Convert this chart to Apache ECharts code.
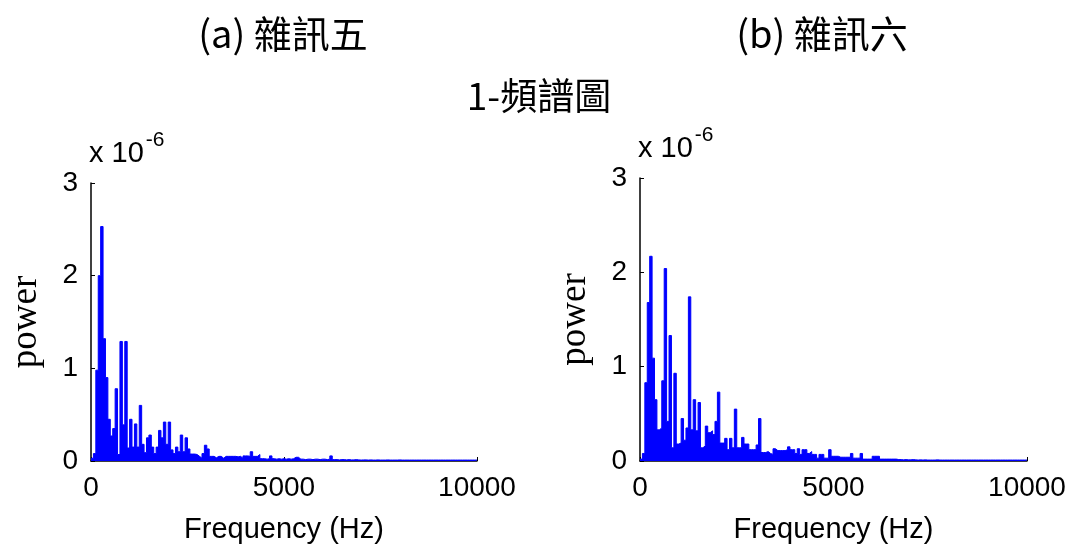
<!DOCTYPE html>
<html>
<head>
<meta charset="utf-8">
<script src="https://cdn.jsdelivr.net/npm/echarts@6/dist/echarts.min.js"></script>
<style>
html,body{margin:0;padding:0;background:#fff;}
#chart{width:1071px;height:549px;}
</style>
</head>
<body>
<div id="chart"></div>
<script>
// ---- data ----
var binHz = 62.5; // spectral bin spacing (Hz)
var titleLeft = '(a) 雜訊五';
var titleRight = '(b) 雜訊六';
var mainTitle = '1-頻譜圖';
var xTicks = [0, 5000, 10000];
var yTicks = [0, 1, 2, 3];
var yExponent = '-6';

// power (x 10^-6) per bin, noise 5
var powerNoise5 = [
  0.03,0.08,0.98,2.0,2.53,1.32,0.9,0.45,0.27,0.35,
  0.78,0.07,1.29,0.39,1.29,0.14,0.45,0.15,0.4,0.15,
  0.6,0.18,0.09,0.25,0.28,0.15,0.08,0.15,0.33,0.25,
  0.42,0.18,0.42,0.12,0.08,0.15,0.1,0.28,0.1,0.25,
  0.13,0.075,0.075,0.07,0.05,0.03,0.08,0.17,0.13,0.05,
  0.05,0.035,0.05,0.05,0.03,0.05,0.05,0.05,0.05,0.05,
  0.045,0.05,0.03,0.055,0.055,0.05,0.1,0.05,0.05,0.07,
  0.025,0.025,0.02,0.025,0.055,0.025,0.02,0.025,0.02,0.025,
  0.02,0.025,0.02,0.025,0.04,0.04,0.02,0.02,0.015,0.02,
  0.02,0.015,0.02,0.02,0.015,0.02,0.02,0.015,0.02,0.055,
  0.015,0.015,0.012,0.015,0.015,0.012,0.015,0.012,0.012,0.015,
  0.012,0.01,0.012,0.012,0.01,0.012,0.01,0.01,0.012,0.01,
  0.01,0.01,0.012,0.01,0.01,0.01,0.01,0.012,0.01,0.01,
  0.01,0.01,0.01,0.01,0.01,0.01,0.01,0.01,0.01,0.01,
  0.01,0.01,0.01,0.01,0.01,0.01,0.01,0.01,0.01,0.01,
  0.01,0.01,0.01,0.01,0.01,0.01,0.01,0.01,0.01,0.01,
  0.01
];

// power (x 10^-6) per bin, noise 6
var powerNoise6 = [
  0.02,0.08,0.83,1.68,2.17,1.09,0.65,0.33,0.35,0.85,
  2.04,0.42,1.33,0.14,0.93,0.18,0.19,0.45,0.22,0.35,
  1.74,0.33,0.65,0.32,0.62,0.14,0.16,0.37,0.3,0.32,
  0.28,0.42,0.73,0.19,0.19,0.24,0.12,0.24,0.14,0.55,
  0.14,0.14,0.25,0.18,0.18,0.12,0.12,0.12,0.17,0.45,
  0.09,0.09,0.1,0.08,0.07,0.13,0.11,0.11,0.11,0.11,
  0.12,0.15,0.12,0.12,0.08,0.13,0.07,0.12,0.12,0.08,
  0.1,0.07,0.07,0.03,0.07,0.07,0.03,0.03,0.12,0.05,
  0.05,0.05,0.04,0.04,0.04,0.04,0.04,0.08,0.03,0.03,
  0.03,0.08,0.02,0.02,0.02,0.02,0.05,0.05,0.05,0.02,
  0.02,0.02,0.02,0.02,0.02,0.02,0.015,0.015,0.012,0.015,
  0.012,0.012,0.015,0.012,0.01,0.012,0.01,0.012,0.01,0.01,
  0.01,0.01,0.012,0.01,0.01,0.01,0.01,0.01,0.01,0.01,
  0.01,0.01,0.01,0.01,0.01,0.01,0.01,0.01,0.01,0.01,
  0.01,0.01,0.01,0.01,0.01,0.01,0.01,0.01,0.01,0.01,
  0.01,0.01,0.01,0.01,0.01,0.01,0.01,0.01,0.01,0.01,
  0.01
];

// ---- build ----
function toPoints(vals){
  return vals.map(function(v,i){ return [i*binHz, v]; });
}
var sansFont = "'Liberation Sans', Arial, sans-serif";
var serifFont = "'Liberation Serif', 'Times New Roman', serif";
var cjkFont = "'Noto Sans CJK TC', 'Noto Sans CJK SC', sans-serif";

var grids = [
  {left: 91, top: 183, width: 386, height: 280},
  {left: 640, top: 178, width: 387, height: 284}
];

function xAxisCfg(idx){
  return {
    gridIndex: idx, type: 'value', min: xTicks[0], max: xTicks[xTicks.length-1],
    interval: xTicks[1]-xTicks[0],
    axisLine: {show: true, onZero: false, lineStyle: {color: '#000', width: 1.5}},
    axisTick: {show: true, inside: true, length: 4, lineStyle: {color: '#000'}},
    axisLabel: {show: true, color: '#000', fontSize: 28, fontFamily: sansFont, margin: 13,
                formatter: function(v){ return String(v); }},
    splitLine: {show: false},
    name: 'Frequency (Hz)', nameLocation: 'middle', nameGap: 54,
    nameTextStyle: {color: '#000', fontSize: 29, fontFamily: sansFont}
  };
}
function yAxisCfg(idx){
  return {
    gridIndex: idx, type: 'value', min: yTicks[0], max: yTicks[yTicks.length-1],
    interval: yTicks[1]-yTicks[0],
    axisLine: {show: true, onZero: false, lineStyle: {color: '#000', width: 1.5}},
    axisTick: {show: true, inside: true, length: 4, lineStyle: {color: '#000'}},
    axisLabel: {show: true, color: '#000', fontSize: 28, fontFamily: sansFont, margin: 13,
                formatter: function(v){ return String(v); }},
    splitLine: {show: false},
    name: 'power', nameLocation: 'middle', nameGap: 46,
    nameTextStyle: {color: '#000', fontSize: 37, fontFamily: serifFont}
  };
}
function seriesCfg(idx, vals){
  return {
    type: 'line', xAxisIndex: idx, yAxisIndex: idx, step: 'end',
    data: toPoints(vals), symbol: 'none', showSymbol: false,
    lineStyle: {color: '#0000ff', width: 1},
    areaStyle: {color: '#0000ff', opacity: 1},
    itemStyle: {color: '#0000ff'},
    animation: false, silent: true, z: 3
  };
}
function expTitle(x, y){
  return {
    left: x, top: y,
    text: '{m|x 10}{s|' + yExponent + '}',
    textStyle: {
      fontWeight: 'normal',
      rich: {
        m: {fontSize: 29, fontWeight: 'normal', fontFamily: sansFont, color: '#000', lineHeight: 38, verticalAlign: 'bottom'},
        s: {fontSize: 21, fontWeight: 'normal', fontFamily: sansFont, color: '#000', lineHeight: 38, verticalAlign: 'top', padding: [0,0,0,2]}
      }
    },
    padding: 0
  };
}

var chart = echarts.init(document.getElementById('chart'), null, {renderer: 'canvas'});
chart.setOption({
  backgroundColor: '#fff',
  animation: false,
  title: [
    {text: titleLeft, left: 283, top: 15, textAlign: 'center', padding: 0,
     textStyle: {fontSize: 38, fontWeight: 'normal', color: '#000', fontFamily: cjkFont}},
    {text: titleRight, left: 822, top: 15, textAlign: 'center', padding: 0,
     textStyle: {fontSize: 38, fontWeight: 'normal', color: '#000', fontFamily: cjkFont}},
    {text: mainTitle, left: 539, top: 77, textAlign: 'center', padding: 0,
     textStyle: {fontSize: 37, fontWeight: 'normal', color: '#000', fontFamily: cjkFont}},
    expTitle(89, 130),
    expTitle(638, 125)
  ],
  grid: grids,
  xAxis: [xAxisCfg(0), xAxisCfg(1)],
  yAxis: [yAxisCfg(0), yAxisCfg(1)],
  series: [seriesCfg(0, powerNoise5), seriesCfg(1, powerNoise6)]
});
</script>
</body>
</html>
